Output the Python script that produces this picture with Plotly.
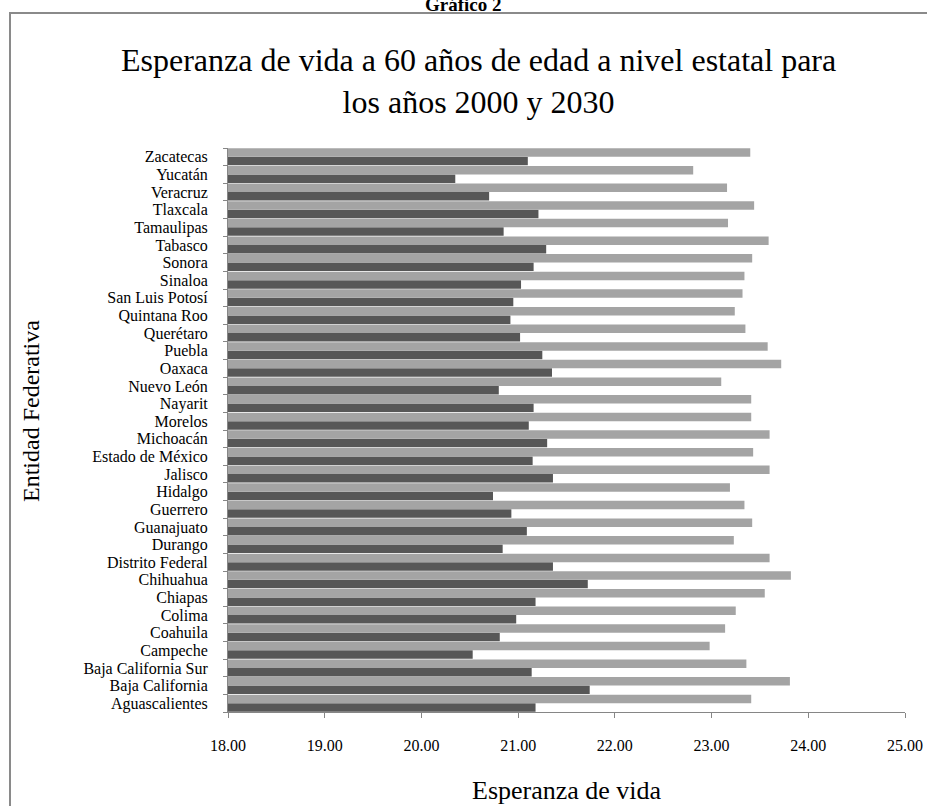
import plotly.graph_objects as go

estados = ["Aguascalientes", "Baja California", "Baja California Sur", "Campeche", "Coahuila",
           "Colima", "Chiapas", "Chihuahua", "Distrito Federal", "Durango", "Guanajuato",
           "Guerrero", "Hidalgo", "Jalisco", "Estado de México", "Michoacán", "Morelos",
           "Nayarit", "Nuevo León", "Oaxaca", "Puebla", "Querétaro", "Quintana Roo",
           "San Luis Potosí", "Sinaloa", "Sonora", "Tabasco", "Tamaulipas", "Tlaxcala",
           "Veracruz", "Yucatán", "Zacatecas"]

ev_2000 = [21.18, 21.74, 21.14, 20.53, 20.81, 20.98, 21.18, 21.72, 21.36, 20.84, 21.09,
           20.93, 20.74, 21.36, 21.15, 21.30, 21.11, 21.16, 20.80, 21.35, 21.25, 21.02,
           20.92, 20.95, 21.03, 21.16, 21.29, 20.85, 21.21, 20.70, 20.35, 21.10]

ev_2030 = [23.41, 23.81, 23.36, 22.98, 23.14, 23.25, 23.55, 23.82, 23.60, 23.23, 23.42,
           23.34, 23.19, 23.60, 23.43, 23.60, 23.41, 23.41, 23.10, 23.72, 23.58, 23.35,
           23.24, 23.32, 23.34, 23.42, 23.59, 23.17, 23.44, 23.16, 22.81, 23.40]

x_ticks = [18, 19, 20, 21, 22, 23, 24, 25]
x_ticklabels = ["18.00", "19.00", "20.00", "21.00", "22.00", "23.00", "24.00", "25.00"]

FONT = "Liberation Serif, Times New Roman, serif"

W, H = 927, 806
L, R, T, B = 228, 22, 148, 94
pw, ph = W - L - R, H - T - B


def px(x):
    return (x - L) / pw


def py(y):
    return (H - B - y) / ph


fig = go.Figure()
fig.add_trace(go.Bar(y=estados, x=ev_2000, orientation="h", name="2000",
                     marker=dict(color="#575757", line=dict(width=0))))
fig.add_trace(go.Bar(y=estados, x=ev_2030, orientation="h", name="2030",
                     marker=dict(color="#a4a4a4", line=dict(width=0))))

fig.update_layout(
    width=W, height=H,
    margin=dict(l=L, r=R, t=T, b=B, autoexpand=False),
    paper_bgcolor="white", plot_bgcolor="white",
    barmode="group", bargap=0.03, bargroupgap=0,
    showlegend=False,
    font=dict(family=FONT, color="black"),
    xaxis=dict(range=[18, 25], tickmode="array", tickvals=x_ticks, ticktext=x_ticklabels,
               automargin=False,
               showgrid=False, zeroline=False, showline=True, linecolor="#868686",
               linewidth=1, ticks="outside", ticklen=5, tickcolor="#868686",
               tickfont=dict(size=16, family=FONT), ticklabelstandoff=14),
    yaxis=dict(type="category", tickmode="array", tickvals=estados, ticktext=estados,
               automargin=False, showgrid=False, zeroline=False, showline=True,
               linecolor="#868686", linewidth=1, ticks="outside", ticklen=4,
               tickcolor="#868686", tickson="boundaries",
               tickfont=dict(size=16, family=FONT), ticklabelstandoff=16),
)

# outer frame
fig.add_shape(type="rect", xref="paper", yref="paper",
              x0=px(10), x1=px(935), y0=py(815), y1=py(13),
              line=dict(color="#8a8a8a", width=2), fillcolor="rgba(0,0,0,0)")

fig.add_annotation(text="<b>Gráfico 2</b>", xref="paper", yref="paper",
                   x=px(463), y=py(4), xanchor="center", yanchor="middle",
                   showarrow=False, font=dict(size=19, family=FONT))

fig.add_annotation(text="Esperanza de vida a 60 años de edad a nivel estatal para<br>los años 2000 y 2030",
                   xref="paper", yref="paper", x=px(478), y=py(81),
                   xanchor="center", yanchor="middle", showarrow=False,
                   font=dict(size=32, family=FONT))

fig.add_annotation(text="Entidad Federativa", xref="paper", yref="paper",
                   x=px(31), y=py(411), xanchor="center", yanchor="middle",
                   textangle=-90, showarrow=False, font=dict(size=24, family=FONT))

fig.add_annotation(text="Esperanza de vida", xref="paper", yref="paper",
                   x=px(567), y=py(790), xanchor="center", yanchor="middle",
                   showarrow=False, font=dict(size=26, family=FONT))

fig.write_html("out.html")
